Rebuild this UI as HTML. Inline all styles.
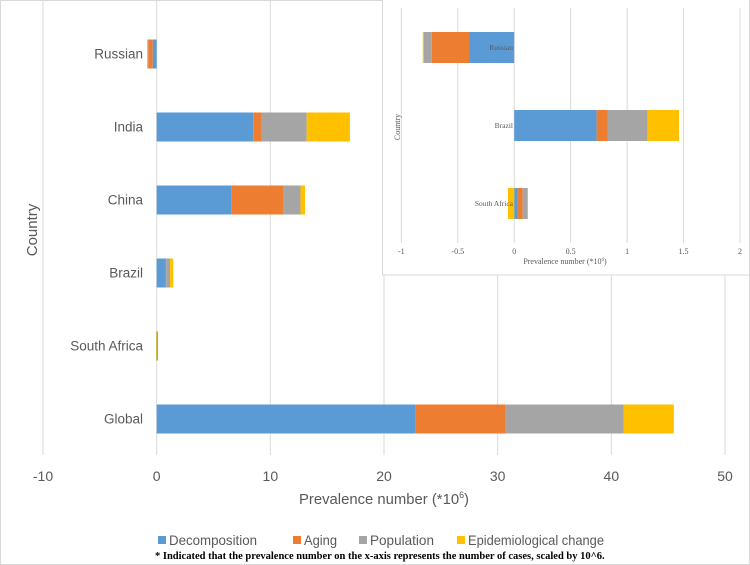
<!DOCTYPE html>
<html><head><meta charset="utf-8"><style>
body{margin:0;background:#fff;}
svg{display:block;font-family:"Liberation Sans",sans-serif;}
</style></head><body>
<svg id="c" width="750" height="565" viewBox="0 0 750 565">
<rect x="0.5" y="0.5" width="749" height="564" fill="#fff" stroke="#d9d9d9"/>
<g id="main"></g>
<g id="inset"></g>
</svg>
<script>
const seriesNames = ["Decomposition","Aging","Population","Epidemiological change"];
const colors = ["#5b9bd5","#ed7d31","#a5a5a5","#ffc000"];
const mainCats = ["Russian","India","China","Brazil","South Africa","Global"];
const mainDecomp = [-0.35, 8.5, 6.55, 0.73, 0.03, 22.8];
const mainAging = [-0.4, 0.75, 4.63, 0.1, 0.045, 7.9];
const mainPop = [-0.07, 3.95, 1.47, 0.35, 0.045, 10.4];
const mainEpi = [-0.01, 3.8, 0.4, 0.28, -0.055, 4.4];
const mainTicks = [-10,0,10,20,30,40,50];
const insetCats = ["Russian","Brazil","South Africa"];
const insetDecomp = [-0.4, 0.73, 0.03];
const insetAging = [-0.33, 0.1, 0.045];
const insetPop = [-0.07, 0.35, 0.045];
const insetEpi = [-0.01, 0.28, -0.055];
const insetTicks = [-1,-0.5,0,0.5,1,1.5,2];

const NS="http://www.w3.org/2000/svg";
function mk(parent,tag,attrs,text){const e=document.createElementNS(NS,tag);for(const k in attrs)e.setAttribute(k,attrs[k]);if(text!=null)e.textContent=text;parent.appendChild(e);return e;}

function drawChart(g,cfg){
  const xs=v=>cfg.x0+(v-cfg.min)*(cfg.x1-cfg.x0)/(cfg.max-cfg.min);
  const ys=i=>cfg.yTop+i*cfg.step;
  cfg.ticks.forEach(t=>{
    const l=mk(g,'line',{x1:xs(t),x2:xs(t),y1:cfg.gTop,y2:cfg.gBot,stroke:'#d9d9d9','stroke-width':1});
    
    
    const tx=mk(g,'text',{x:xs(t),y:cfg.tickY,'text-anchor':'middle','font-size':cfg.tickFs,fill:'#595959','font-family':cfg.font},String(t));
    
    
  });
  const data=[cfg.d,cfg.a,cfg.p,cfg.e];
  cfg.cats.forEach((c,i)=>{
    let pos=0,neg=0;
    data.forEach((arr,s)=>{
      const v=arr[i];let a,b;
      if(v>=0){a=pos;b=pos+v;pos=b;}else{a=neg+v;b=neg;neg=a;}
      const r=mk(g,'rect',{x:xs(a),y:ys(i)-cfg.bh/2,width:Math.max(0.5,xs(b)-xs(a)),height:cfg.bh,fill:colors[s]});
      
      
    });
    const lb=mk(g,'text',{x:cfg.labelX,y:ys(i)+cfg.catFs*0.35,'text-anchor':'end','font-size':cfg.catFs,fill:'#595959','font-family':cfg.font},c);
    
    
  });
}

const main=document.getElementById('main');
drawChart(main,{x0:43,x1:725,min:-10,max:50,ticks:mainTicks,gTop:0,gBot:455,tickY:481,tickFs:14,
  cats:mainCats,yTop:54,step:73,bh:29,d:mainDecomp,a:mainAging,p:mainPop,e:mainEpi,labelX:143,catFs:13.5,font:'"Liberation Sans",sans-serif'});
let t=mk(main,'text',{x:299,y:504,'font-size':15,fill:'#595959',textLength:170,lengthAdjust:'spacingAndGlyphs'});

t.innerHTML='Prevalence number (*10<tspan dy="-6" font-size="9">6</tspan><tspan dy="6">)</tspan>';
t=mk(main,'text',{x:37,y:230,'text-anchor':'middle','font-size':15,fill:'#595959',transform:'rotate(-90 37 230)'},'Country');


// legend
const lg=mk(main,'g',{});

const legX=[158,293,359,457];
const legW=[88,33,64,136];
seriesNames.forEach((n,s)=>{
  const sq=mk(lg,'rect',{x:legX[s],y:536,width:8,height:8,fill:colors[s]});
  
  const tx=mk(lg,'text',{x:legX[s]+11,y:545,'font-size':14,fill:'#595959',textLength:legW[s],lengthAdjust:'spacingAndGlyphs'},n);
  
});
t=mk(main,'text',{x:155,y:559,'font-size':10.5,'font-weight':'bold','font-family':'"Liberation Serif",serif',fill:'#000'},'* Indicated that the prevalence number on the x-axis represents the number of cases, scaled by 10^6.');


// inset
const ins=document.getElementById('inset');
const bg=mk(ins,'rect',{x:382.5,y:-1,width:367,height:276,fill:'#fff',stroke:'#d9d9d9'});

drawChart(ins,{x0:401.3,x1:740,min:-1,max:2,ticks:insetTicks,gTop:8,gBot:243,tickY:254,tickFs:8,
  cats:insetCats,yTop:47.5,step:78,bh:31,d:insetDecomp,a:insetAging,p:insetPop,e:insetEpi,labelX:513,catFs:7.5,font:'"Liberation Serif",serif'});
t=mk(ins,'text',{x:565,y:264,'text-anchor':'middle','font-size':8,fill:'#595959','font-family':'"Liberation Serif",serif'});

t.innerHTML='Prevalence number (*10<tspan dy="-3" font-size="5">6</tspan><tspan dy="3">)</tspan>';
t=mk(ins,'text',{x:400,y:127,'text-anchor':'middle','font-size':8,fill:'#595959','font-family':'"Liberation Serif",serif',transform:'rotate(-90 400 127)'},'Country');

</script>
</body></html>
